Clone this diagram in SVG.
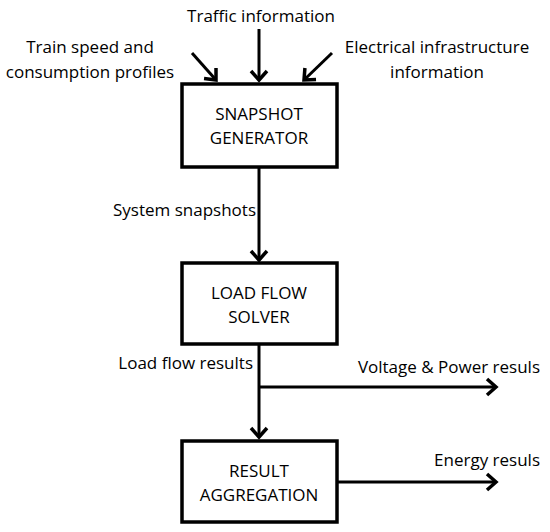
<svg xmlns="http://www.w3.org/2000/svg" width="550" height="532" viewBox="0 0 550 532">
<style>
.box{fill:#fff;stroke:#000;stroke-width:3.5}
.ln{fill:none;stroke:#000;stroke-width:3;marker-end:url(#ah)}
text{font-family:"Open Sans","Liberation Sans",sans-serif;font-size:17px;fill:#000}
.c{text-anchor:middle}
.e{text-anchor:end}
</style>
<defs>
<marker id="ah" markerUnits="userSpaceOnUse" markerWidth="24" markerHeight="24" refX="14" refY="10" orient="auto" viewBox="0 0 24 20">
<path d="M5,2 L14,10 L5,18" fill="none" stroke="#000" stroke-width="3.5"/>
</marker>
</defs>
<rect width="550" height="532" fill="#fff"/>
<g id="connectors">
<line class="ln" x1="259" y1="29" x2="259" y2="80"/>
<line class="ln" x1="192" y1="53" x2="216" y2="80"/>
<line class="ln" x1="332" y1="53" x2="304" y2="80"/>
<line class="ln" x1="259" y1="168" x2="259" y2="260"/>
<line class="ln" x1="259" y1="345" x2="259" y2="437"/>
<line class="ln" x1="259" y1="387" x2="496" y2="387"/>
<line class="ln" x1="338" y1="482" x2="496" y2="482"/>
</g>
<g id="labels">
<text class="c" x="261" y="22">Traffic information</text>
<text class="c" x="90" y="53">Train speed and</text>
<text class="c" x="90" y="78">consumption profiles</text>
<text class="c" x="437" y="53">Electrical infrastructure</text>
<text class="c" x="437" y="78">information</text>
<text class="e" x="256" y="216">System snapshots</text>
<text class="e" x="253" y="369">Load flow results</text>
<text class="e" x="540" y="373">Voltage &amp; Power resuls</text>
<text class="e" x="540" y="466">Energy resuls</text>
</g>
<g id="snapshot-generator">
<rect class="box" x="182" y="84" width="155" height="83"/>
<text class="c" x="259" y="120">SNAPSHOT</text>
<text class="c" x="259" y="144">GENERATOR</text>
</g>
<g id="load-flow-solver">
<rect class="box" x="182" y="263" width="155" height="81"/>
<text class="c" x="259" y="299">LOAD FLOW</text>
<text class="c" x="259" y="323">SOLVER</text>
</g>
<g id="result-aggregation">
<rect class="box" x="182" y="441" width="155" height="81"/>
<text class="c" x="259" y="477">RESULT</text>
<text class="c" x="259" y="501">AGGREGATION</text>
</g>
</svg>
